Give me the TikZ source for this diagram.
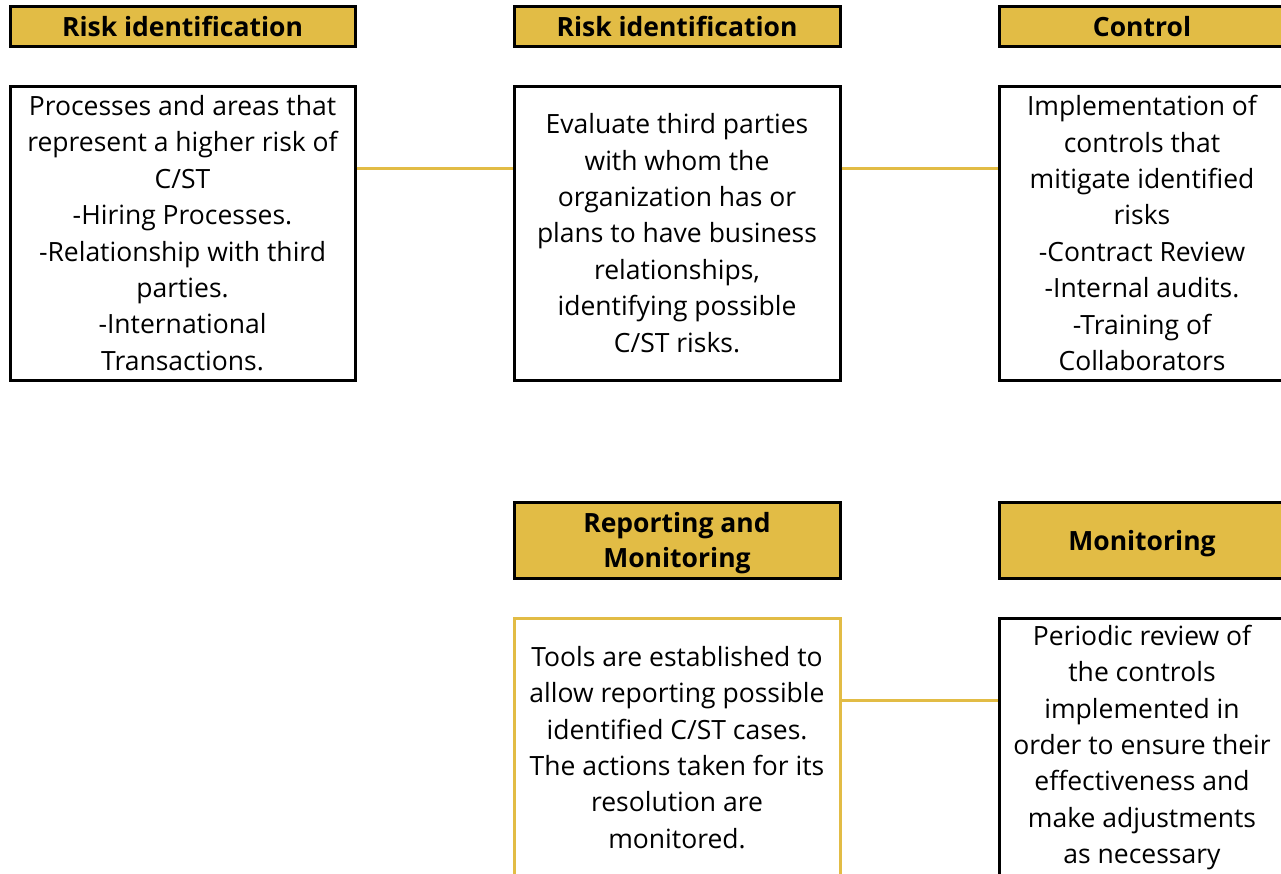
\documentclass[tikz,border=0pt]{standalone}
\usepackage{fontspec}
\setmainfont{Open Sans}
\usepackage{xcolor}
\usetikzlibrary{positioning}

\definecolor{gold}{HTML}{E2BC45}

\begin{document}
\begin{tikzpicture}[x=1pt, y=-1pt,
  head/.style={draw=black, line width=3pt, fill=gold, inner sep=0pt, text depth=0pt,
    align=center, font=\fontsize{26.5}{35}\selectfont\bfseries},
  card/.style={draw=black, line width=3pt, fill=white, inner sep=0pt,
    align=center, font=\fontsize{26.5}{36.4}\selectfont},
  link/.style={draw=gold, line width=3pt}]
  \useasboundingbox (0,0) rectangle (1281,873);
  % top row: headers
  \node[head, minimum width=345pt, minimum height=40pt] (hdrA) at (182.5,26) {Risk identification};
  \node[head, minimum width=326pt, minimum height=40pt] (hdrB) at (677,26) {Risk identification};
  \node[head, minimum width=286pt, minimum height=40pt] (hdrC) at (1142,26) {Control};
  % top row: descriptions
  \node[card, minimum width=345pt, minimum height=294pt] (boxA) at (182.5,233)
    {Processes and areas that\\represent a higher risk of\\C/ST\\-Hiring Processes.\\-Relationship with third\\parties.\\-International\\Transactions.};
  \node[card, minimum width=326pt, minimum height=294pt] (boxB) at (677,233)
    {Evaluate third parties\\with whom the\\organization has or\\plans to have business\\relationships,\\identifying possible\\C/ST risks.};
  \node[card, minimum width=286pt, minimum height=294pt] (boxC) at (1142,233)
    {Implementation of\\controls that\\mitigate identified\\risks\\-Contract Review\\-Internal audits.\\-Training of\\Collaborators};
  % bottom row
  \node[head, minimum width=326pt, minimum height=76pt] (hdrD) at (677,540) {Reporting and\\Monitoring};
  \node[head, minimum width=286pt, minimum height=76pt] (hdrE) at (1142,540) {Monitoring};
  \node[card, draw=gold, minimum width=326pt, minimum height=259pt] (boxD) at (677,747.5)
    {Tools are established to\\allow reporting possible\\identified C/ST cases.\\The actions taken for its\\resolution are\\monitored.};
  \node[card, minimum width=286pt, minimum height=259pt] (boxE) at (1142,747.5)
    {Periodic review of\\the controls\\implemented in\\order to ensure their\\effectiveness and\\make adjustments\\as necessary};
  % connectors
  \draw[link] ([yshift=65pt]boxA.east) -- ([yshift=65pt]boxB.west);
  \draw[link] ([yshift=65pt]boxB.east) -- ([yshift=65pt]boxC.west);
  \draw[link] ([yshift=47.5pt]boxD.east) -- ([yshift=47.5pt]boxE.west);
\end{tikzpicture}
\end{document}
